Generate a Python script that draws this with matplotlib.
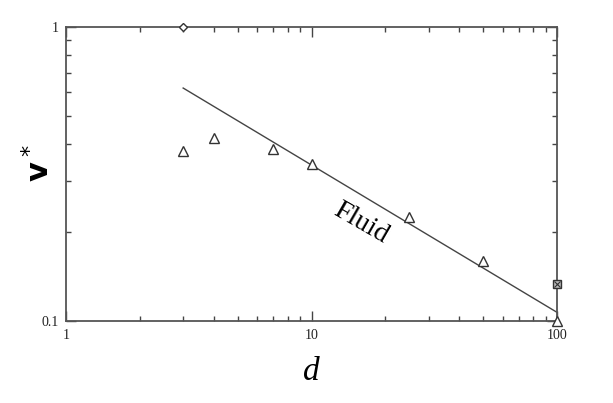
import matplotlib
matplotlib.use("Agg")
import matplotlib.pyplot as plt
from matplotlib.ticker import FixedLocator, FixedFormatter, LogLocator, NullFormatter

# data
tri_d = [3, 4, 7, 10, 25, 50, 100]
tri_v = [0.38, 0.42, 0.385, 0.342, 0.226, 0.16, 0.10]
diamond_d = [3]
diamond_v = [1.0]
square_d = [100]
square_v = [0.134]
line_d = [3, 100]
line_v = [0.62, 0.107]

xticks = [1, 10, 100]
xticklabels = ["1", "10", "100"]
yticks = [0.1, 1]
yticklabels = ["0.1", "1"]

fig = plt.figure(figsize=(6.13, 4.03), dpi=100)
ax = fig.add_axes([0.1077, 0.2035, 0.801, 0.7295])
ax.set_xscale("log")
ax.set_yscale("log")
ax.set_xlim(1, 100)
ax.set_ylim(0.1, 1)

c = "#333333"
ax.plot(line_d, line_v, color="#444444", lw=1.0, zorder=2)
ax.plot(tri_d, tri_v, ls="none", marker="^", ms=7, mfc="white", mec=c, mew=1.0, zorder=3, clip_on=False)
ax.plot(diamond_d, diamond_v, ls="none", marker="D", ms=4.5, mfc="white", mec=c, mew=1.0, zorder=3, clip_on=False)
ax.plot(square_d, square_v, ls="none", marker="s", ms=6, mfc="#bbbbbb", mec=c, mew=1.0, zorder=3, clip_on=False)
ax.plot(square_d, square_v, ls="none", marker="x", ms=4, mec=c, mew=0.8, zorder=4, clip_on=False)

for s in ax.spines.values():
    s.set_color("#555555")
    s.set_linewidth(1.3)

ax.xaxis.set_major_locator(FixedLocator(xticks))
ax.xaxis.set_major_formatter(FixedFormatter(xticklabels))
ax.yaxis.set_major_locator(FixedLocator(yticks))
ax.yaxis.set_major_formatter(FixedFormatter(yticklabels))
ax.xaxis.set_minor_locator(LogLocator(base=10, subs=range(2, 10)))
ax.yaxis.set_minor_locator(LogLocator(base=10, subs=range(2, 10)))
ax.xaxis.set_minor_formatter(NullFormatter())
ax.yaxis.set_minor_formatter(NullFormatter())

ax.tick_params(which="both", direction="in", top=True, right=True, color="#444444", width=1.0)
ax.tick_params(which="major", length=7)
ax.tick_params(which="minor", length=3.5)
ax.tick_params(axis="both", which="major", labelsize=10, labelcolor="#222222")
for lab in ax.get_xticklabels() + ax.get_yticklabels():
    lab.set_fontfamily("Liberation Serif")
ax.tick_params(axis="x", pad=6)
ax.tick_params(axis="y", pad=5)

ax.set_xlabel("d", fontsize=24, fontfamily="Liberation Serif", style="italic", labelpad=10)

# y label: "v" with a superscript asterisk, rotated
fig.text(39 / 613, 1 - 171 / 403, "v", fontsize=22, fontweight="bold", fontfamily="DejaVu Sans",
         rotation=90, ha="center", va="center")
fig.text(30 / 613, 1 - 150 / 403, "*", fontsize=16, fontfamily="DejaVu Sans",
         rotation=90, ha="center", va="center")

ax.text(15.9, 0.215, "Fluid", fontsize=20, fontfamily="Liberation Serif",
        rotation=-30, ha="center", va="center", rotation_mode="anchor")

fig.savefig("out.png", dpi=100)
